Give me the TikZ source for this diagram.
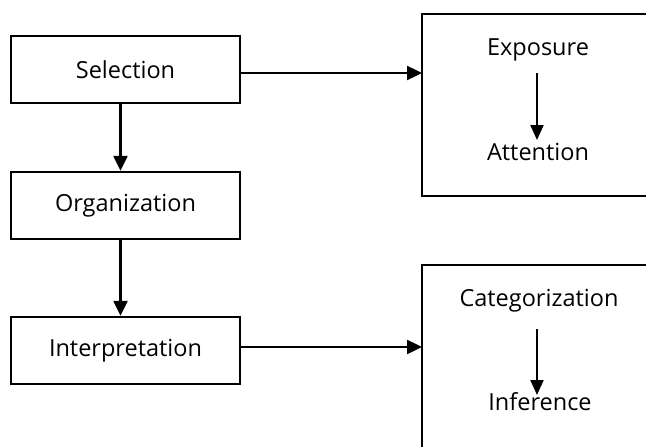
\documentclass[tikz,border=0pt]{standalone}
\usepackage{fontspec}
\setmainfont{Open Sans}
\usetikzlibrary{arrows.meta}
\tikzset{
  stagebox/.style={draw=black, line width=2.4pt, minimum width=229pt, minimum height=67pt, inner sep=0pt, font=\fontsize{23.5}{28}\selectfont},
  groupbox/.style={draw=black, line width=2pt},
  label/.style={inner sep=0pt, font=\fontsize{23.5}{28}\selectfont},
  flow/.style={line width=2.4pt, -{Triangle[length=15pt,width=14pt]}},
  innerflow/.style={line width=2.2pt, -{Triangle[length=15pt,width=13pt]}}
}
\begin{document}
\begin{tikzpicture}[x=1pt,y=-1pt]
  \path[use as bounding box] (0,0) rectangle (646,447);
  \clip (0,0) rectangle (646,447);

  % left column of stages
  \node[stagebox] (sel) at (125.5,69.5) {Selection};
  \node[stagebox] (org) at (125.5,205.5) {Organization};
  \node[stagebox] (int) at (125.5,350.5) {Interpretation};

  % right-hand groups, running past the right edge
  \draw[groupbox] (660,14) -- (422,14) coordinate (g1nw) -- (422,196) -- (660,196);
  \coordinate (g1w) at (422,73);
  \draw[groupbox] (660,265) -- (422,265) -- (422,460);
  \coordinate (g2w) at (422,347);

  \node[label] (exp) at (538,50) {Exposure};
  \node[label] (att) at (538,152) {Attention};
  \node[label] (cat) at (539,301) {Categorization};
  \node[label] (inf) at (540,402) {Inference};

  \coordinate (a1s) at (537,73);
  \coordinate (a1e) at (537,140);
  \coordinate (a2s) at (537,329);
  \coordinate (a2e) at (537,395);

  % connectors
  \draw[flow] ([xshift=-5pt]sel.south) -- ([xshift=-5pt]org.north);
  \draw[flow] ([xshift=-5pt]org.south) -- ([xshift=-5pt]int.north);
  \draw[flow] (sel.east |- g1w) -- (g1w);
  \draw[flow] (int.east |- g2w) -- (g2w);
  \draw[innerflow] (a1s) -- (a1e);
  \draw[innerflow] (a2s) -- (a2e);
\end{tikzpicture}
\end{document}
